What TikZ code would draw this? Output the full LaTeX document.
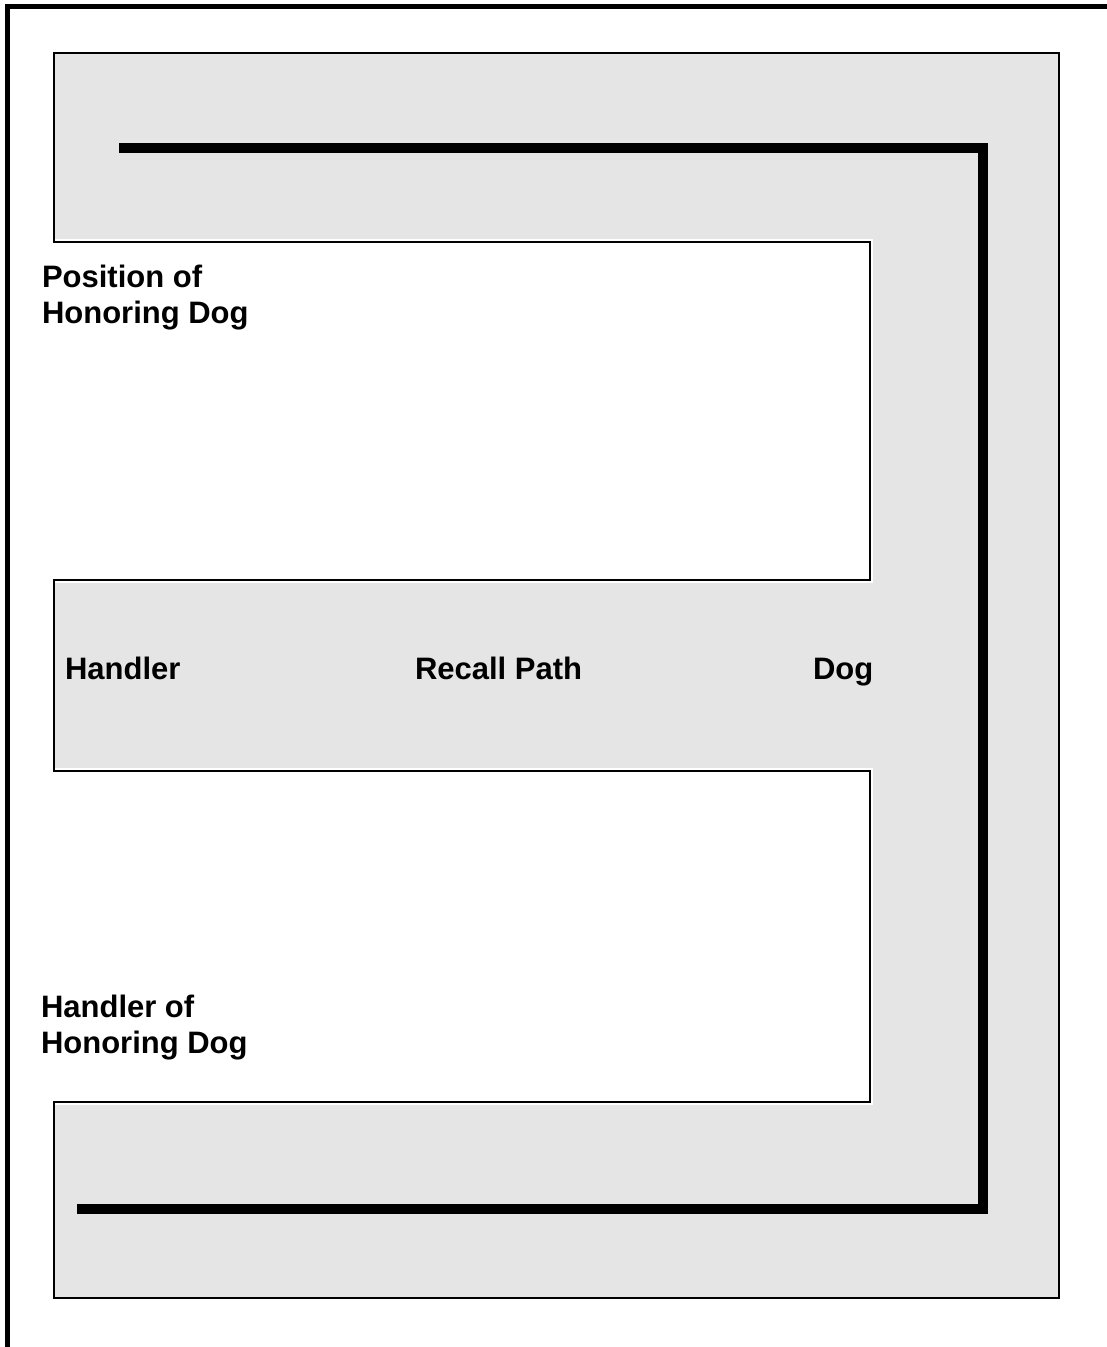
\documentclass[tikz,border=0pt]{standalone}
\usepackage{fontspec}
\setmainfont{Liberation Sans}
\definecolor{fieldgray}{RGB}{229,229,229}
\begin{document}
\begin{tikzpicture}[x=1pt,y=-1pt,
  lbl/.style={inner sep=0pt,outer sep=0pt,anchor=base west,align=left,
    font=\fontsize{31}{36}\selectfont\bfseries},
  route/.style={line width=10pt,line join=miter,line cap=butt},
  edge/.style={line width=2.5pt}]
\useasboundingbox (0,0) rectangle (1107,1347);
% outer frame (top and left only)
\draw[line width=5pt] (7.5,1347) -- (7.5,6.5) -- (1107,6.5);
% gray field with two white notches
\fill[fieldgray] (54,53) -- (1059,53) -- (1059,1298) -- (54,1298) -- (54,1102)
  -- (870,1102) -- (870,771) -- (54,771) -- (54,580) -- (870,580) -- (870,242)
  -- (54,242) -- cycle;
% white halo along notch edges
\draw[white,line width=6pt] (54,242) -- (870,242) -- (870,580) -- (54,580);
\draw[white,line width=6pt] (54,771) -- (870,771) -- (870,1102) -- (54,1102);
\draw[edge] (54,53) -- (1059,53) -- (1059,1298) -- (54,1298) -- (54,1102)
  -- (870,1102) -- (870,771) -- (54,771) -- (54,580) -- (870,580) -- (870,242)
  -- (54,242) -- cycle;
% thick route
\coordinate (rs) at (119,148);
\coordinate (rc1) at (983,148);
\coordinate (rc2) at (983,1208.5);
\coordinate (re) at (77,1208.5);
\draw[route] (rs) -- (rc1) -- (rc2) -- (re);
% labels (base anchor of a two-line node is its last line)
\node[lbl] (pos) at (42,323) {Position of\\Honoring Dog};
\node[lbl] (handler) at (65,679) {Handler};
\node[lbl] (recall) at (415,679) {Recall Path};
\node[lbl] (dog) at (813,679) {Dog};
\node[lbl] (hhd) at (41,1053) {Handler of\\Honoring Dog};
\end{tikzpicture}
\end{document}
